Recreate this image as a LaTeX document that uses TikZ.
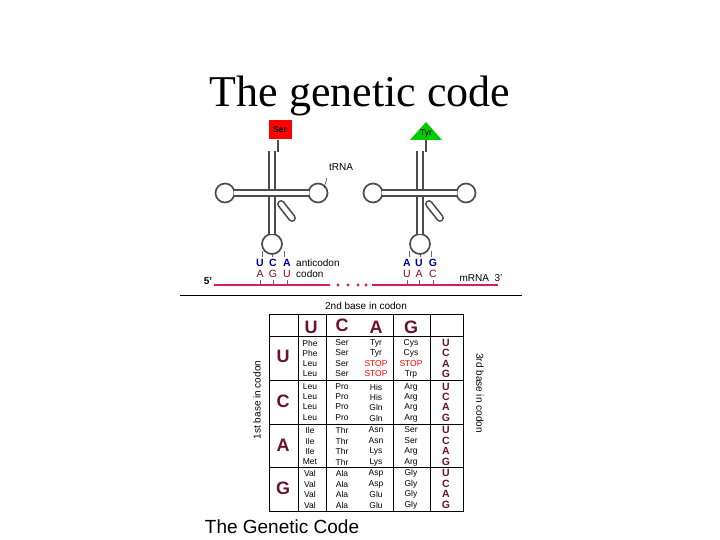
\documentclass[tikz,border=0pt]{standalone}
\usepackage{fontspec}
\setmainfont{Liberation Serif}
\setsansfont{Liberation Sans}
\begin{document}
\begin{tikzpicture}[x=1pt,y=-1pt,
  stemd/.style={draw=black!70, double=white, double distance=4.5pt, line width=1.7pt},
  loopc/.style={draw=black!70, line width=1.7pt, fill=white},
  cell/.style={font=\sffamily\fontsize{8.5}{9}\selectfont, inner sep=0pt},
  big/.style={font=\sffamily\bfseries\fontsize{18}{18}\selectfont, text=maroon, inner sep=0pt},
  third/.style={font=\sffamily\bfseries\fontsize{10.5}{10}\selectfont, text=maroon, inner sep=0pt},
  anti/.style={font=\sffamily\bfseries\fontsize{10.5}{10}\selectfont, text=blue!60!black, inner sep=0pt},
  cod/.style={font=\sffamily\fontsize{10.5}{10}\selectfont, text=purple!70!black, inner sep=0pt},
  lab/.style={font=\sffamily\fontsize{10}{10}\selectfont, inner sep=0pt},
  stopc/.style={cell, text=red}]
\definecolor{maroon}{HTML}{6B1030}
\definecolor{mrna}{HTML}{D81B60}
\useasboundingbox (0,0) rectangle (720,540);
\node[font=\fontsize{44}{48}\selectfont] (title) at (360,96) {The genetic code};
% tRNAs
\foreach \dx/\nm in {0/a,148/b}{
 \begin{scope}[xshift=\dx]
  \draw[black!70,line width=1.6pt] (278,140) -- (278,152);
  \draw[stemd,line cap=round] (281,204) -- (292,218);
  \draw[stemd] (272,151) -- (272,236);
  \draw[stemd] (232,193) -- (311,193);
  \node[loopc,circle,minimum size=19pt,inner sep=0pt] (l\nm) at (225,193) {};
  \node[loopc,circle,minimum size=19pt,inner sep=0pt] (r\nm) at (318,193) {};
  \node[loopc,circle,minimum size=20pt,inner sep=0pt] (b\nm) at (272,244) {};
  \draw[stemd] (272,151) -- (272,234);
  \draw[stemd] (234,193) -- (309,193);
 \end{scope}}
\node[fill=red,minimum width=23pt,minimum height=19pt,inner sep=0pt,font=\sffamily\bfseries\fontsize{8.5}{8}\selectfont] (ser) at (280,130) {Ser};
\fill[green!80!black] (410,140) -- (426,122) -- (442,140) -- cycle;
\node[font=\sffamily\fontsize{8.5}{8}\selectfont] (tyr) at (426,133) {Tyr};
\node[lab] (trna) at (341,167) {tRNA};
\draw (327,178) -- (324,188);
% letters
\foreach \x/\a/\c [count=\i] in {260/U/A,273/C/G,287/A/U,407/A/U,419/U/A,433/G/C}{
  \node[anti] (an\i) at (\x,263) {\a};
  \node[cod] (co\i) at (\x,274) {\c};
  \draw[black!60] (\x,280) -- (\x,285);
}
\foreach \x/\y in {262/251,272/254,284/251,409/251,420/254,431/251}{\draw[black!60] (\x,\y)--(\x,257);}
\node[lab,anchor=west] (ac) at (296,263) {anticodon};
\node[lab,anchor=west] (cd) at (296,274) {codon};
\node[lab,font=\sffamily\bfseries\fontsize{10}{10}\selectfont] (p5) at (208,281) {5'};
\node[lab] (p3) at (481,278) {mRNA\ \ 3'};
\draw[mrna,line width=2.2pt] (214,285) -- (330,285);
\draw[mrna,line width=2.2pt] (372,285) -- (498,285);
\foreach \x in {338,348,358,366} \fill[mrna] (\x,285) circle (1.6);
\draw[line width=0.8pt] (180,295) -- (522,295);
% table
\node[lab] (second) at (366,306) {2nd base in codon};
\draw[line width=0.8pt] (269,314) rectangle (463,511);
\foreach \x in {298,326,393,430} \draw[line width=0.8pt] (\x,314) -- (\x,511);
\foreach \y in {336,380,424,467} \draw[line width=0.8pt] (269,\y) -- (463,\y);
\node[big] (hU) at (311,327) {U};
\node[big] (hC) at (342,325) {C};
\node[big] (hA) at (376,327) {A};
\node[big] (hG) at (411,327) {G};
\foreach \b/\y in {U/356,C/401,A/445,G/488} \node[big] (r\b) at (283,\y) {\b};
\foreach \y/\c [count=\i] in {343/U,353/C,364/A,374/G,387/U,397/C,407/A,418/G,430/U,441/C,451/A,462/G,473/U,484/C,494/A,505/G}
  \node[third] (t\i) at (446,\y) {\c};
\foreach \y/\p/\q/\r/\s in {343/Phe/Ser/Tyr/Cys,353/Phe/Ser/Tyr/Cys,387/Leu/Pro/His/Arg,397/Leu/Pro/His/Arg,407/Leu/Pro/Gln/Arg,418/Leu/Pro/Gln/Arg,430/Ile/Thr/Asn/Ser,441/Ile/Thr/Asn/Ser,451/Ile/Thr/Lys/Arg,462/Met/Thr/Lys/Arg,473/Val/Ala/Asp/Gly,484/Val/Ala/Asp/Gly,494/Val/Ala/Glu/Gly,505/Val/Ala/Glu/Gly}{
  \node[cell] at (310,\y) {\p}; \node[cell] at (342,\y) {\q};
  \node[cell] at (376,\y) {\r}; \node[cell] at (411,\y) {\s};}
\node[cell] at (310,364) {Leu}; \node[cell] at (342,364) {Ser};
\node[stopc] at (376,364) {STOP}; \node[stopc] at (411,364) {STOP};
\node[cell] at (310,374) {Leu}; \node[cell] at (342,374) {Ser};
\node[stopc] at (376,374) {STOP}; \node[cell] at (411,374) {Trp};
\node[lab,rotate=90] (first) at (257,400) {1st base in codon};
\node[lab,rotate=-90] (thirdl) at (480,393) {3rd base in codon};
\node[font=\sffamily\fontsize{19}{20}\selectfont] (bt) at (282,527) {The Genetic Code};
\end{tikzpicture}
\end{document}
